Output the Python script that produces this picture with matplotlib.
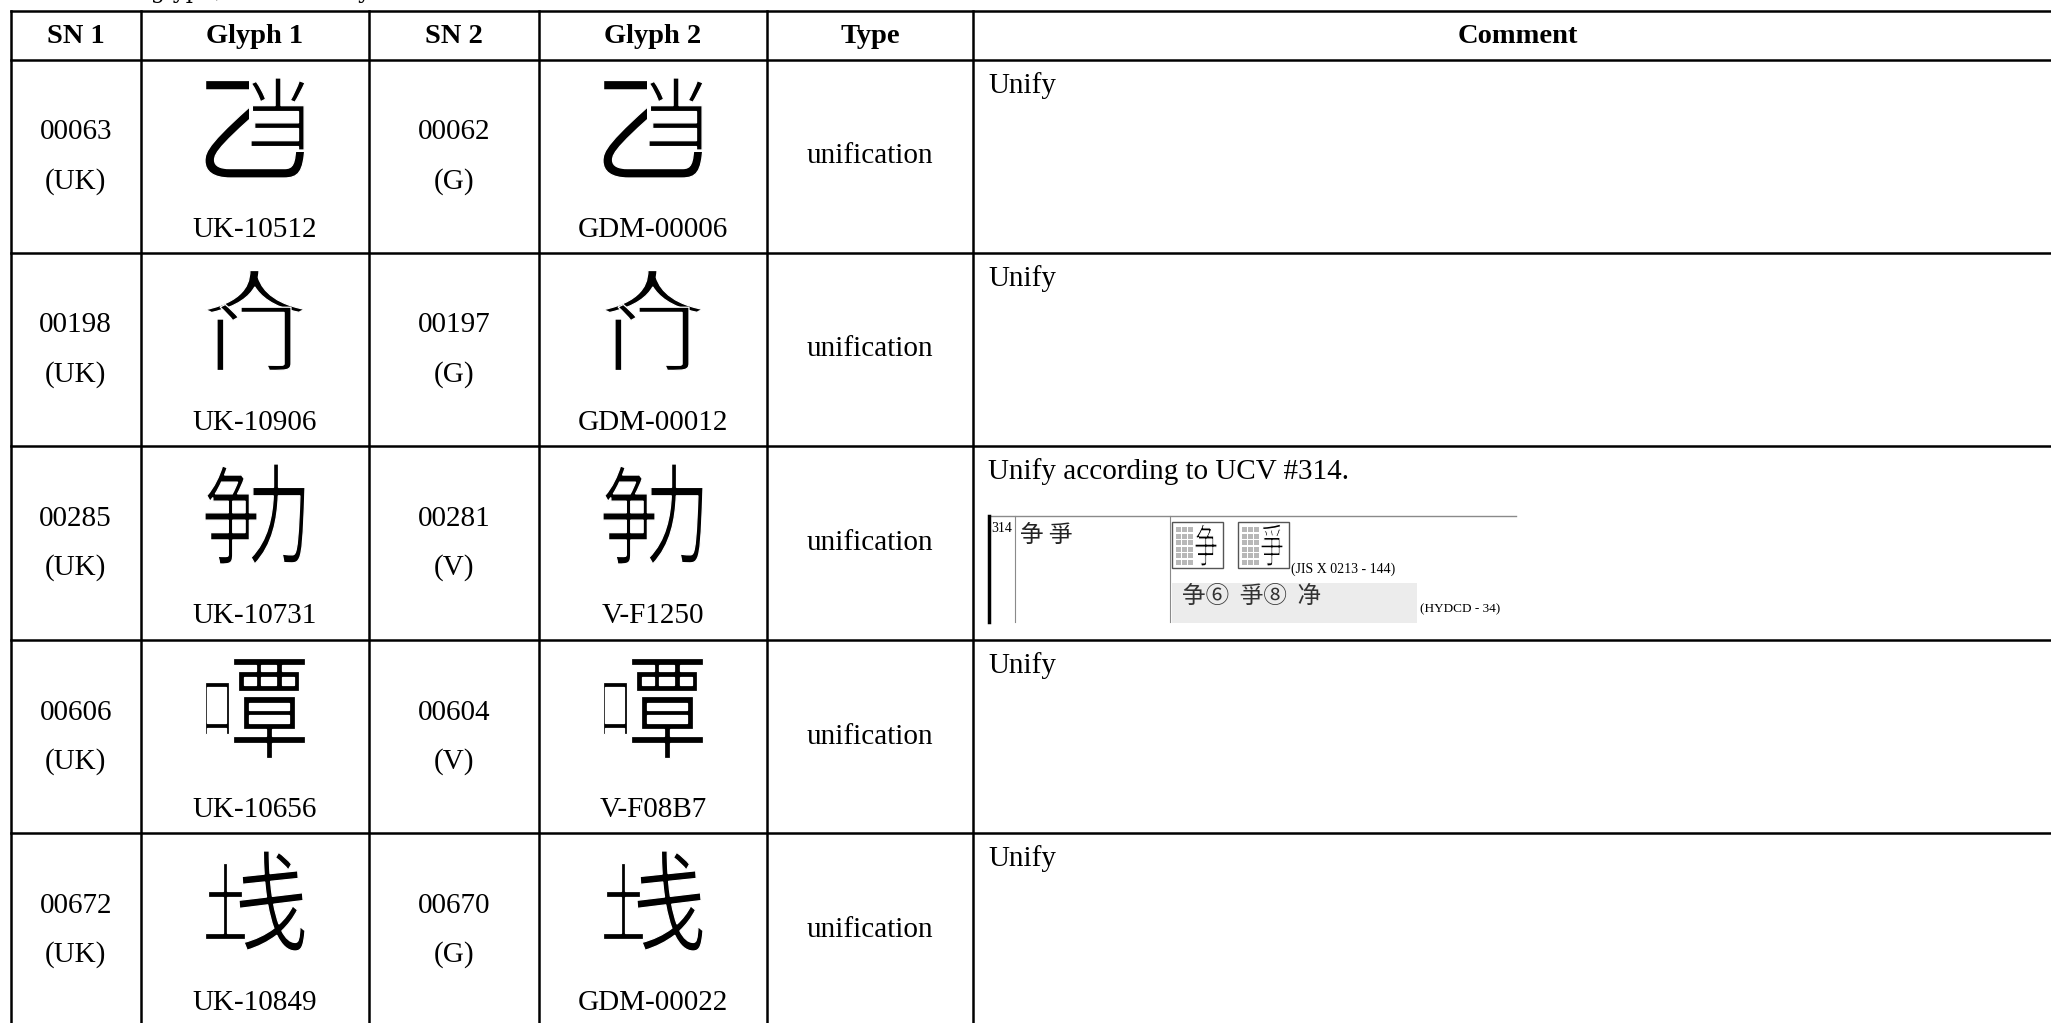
import matplotlib
matplotlib.use("Agg")
import matplotlib.pyplot as plt
from matplotlib.textpath import TextPath
from matplotlib.patches import PathPatch, Rectangle, Polygon
from matplotlib.font_manager import FontProperties
from matplotlib.transforms import Affine2D

# table content
headers = ["SN 1", "Glyph 1", "SN 2", "Glyph 2", "Type", "Comment"]
sn1 = ["00063", "00198", "00285", "00606", "00672"]
src1 = ["UK", "UK", "UK", "UK", "UK"]
ids1 = ["UK-10512", "UK-10906", "UK-10731", "UK-10656", "UK-10849"]
sn2 = ["00062", "00197", "00281", "00604", "00670"]
src2 = ["G", "G", "V", "V", "G"]
ids2 = ["GDM-00006", "GDM-00012", "V-F1250", "V-F08B7", "GDM-00022"]
types = ["unification"] * 5
comments = ["Unify", "Unify", "Unify according to UCV #314.", "Unify", "Unify"]

# glyphs not in Unicode: built from components (char, x, y, w, h in a unit box)
glyph_parts = [
    [("乙", 0.0, 0.02, 1.0, 0.98), ("当", 0.46, 0.0, 0.54, 0.72)],
    [("人", 0.0, 0.0, 1.0, 0.42), ("门", 0.12, 0.34, 0.74, 0.66)],
    [("争", 0.0, 0.02, 0.52, 0.98), ("力", 0.46, 0.0, 0.54, 1.0)],
    [("口", 0.0, 0.24, 0.24, 0.52), ("覃", 0.28, 0.0, 0.72, 1.0)],
    [("土", 0.0, 0.12, 0.40, 0.76), ("戋", 0.34, 0.0, 0.66, 1.0)],
]
# first component of row 1 is clipped so its top bar does not cross 当
clip_first = [True, False, False, False, False]

# UCV #314 excerpt
ucv_no = "314"
ucv_pair = "争 爭"
jis_ref = "(JIS X 0213 - 144)"
hydcd_chars = "争⑥  爭⑧  净"
hydcd_ref = "(HYDCD - 34)"

col_x = [10.5, 141, 369, 539, 767, 973, 2062]
row_y = [10.5, 60, 252.5, 446, 640, 833, 1027]

W, H = 2051, 1023
fig = plt.figure(figsize=(W / 100, H / 100), dpi=100)
ax = fig.add_axes([0, 0, 1, 1])
ax.set_xlim(0, W)
ax.set_ylim(H, 0)
ax.axis("off")

serif = "Liberation Serif"
fs = 21
cjk = FontProperties(family="Noto Sans CJK SC")


def put_char(ch, x0, y0, w, h, color="black", clip=None):
    tp = TextPath((0, 0), ch, size=1, prop=cjk)
    ext = tp.get_extents()
    tr = (Affine2D().translate(-ext.x0, -ext.y1)
          .scale(w / ext.width, -h / ext.height).translate(x0, y0))
    p = PathPatch(tr.transform_path(tp), fc=color, ec="white", lw=0.9)
    ax.add_patch(p)
    if clip is not None:
        p.set_clip_path(clip)


def put_glyph(parts, cx, top, size, clip0):
    x0 = cx - size / 2
    for k, (ch, px, py, pw, ph) in enumerate(parts):
        clip = None
        if k == 0 and clip0:
            s = size
            clip = Polygon([(x0 - 5, top - 5), (x0 + 0.44 * s, top - 5),
                            (x0 + 0.44 * s, top + 0.74 * s),
                            (x0 + s + 5, top + 0.74 * s),
                            (x0 + s + 5, top + s + 5), (x0 - 5, top + s + 5)],
                           closed=True, transform=ax.transData)
        put_char(ch, x0 + px * size, top + py * size, pw * size, ph * size,
                 clip=clip)


# cut-off heading above the table (only descenders show)
ax.text(79, -2, "Same glyph, identical layout", fontsize=16.5,
        family="DejaVu Serif", va="baseline", ha="left")

# grid
for y in row_y:
    ax.plot([col_x[0], col_x[-1]], [y, y], color="black", lw=1.8,
            solid_capstyle="projecting")
for x in col_x:
    ax.plot([x, x], [row_y[0], row_y[-1]], color="black", lw=1.8)

mid_x = [(col_x[i] + col_x[i + 1]) / 2 for i in range(6)]
for i, h in enumerate(headers):
    ax.text(mid_x[i], (row_y[0] + row_y[1]) / 2 + 1, h, fontsize=20.5,
            family=serif, weight="bold", ha="center", va="center")

for r in range(5):
    top = row_y[r + 1]
    mid = (row_y[r + 1] + row_y[r + 2]) / 2
    ax.text(mid_x[0], mid - 24, sn1[r], fontsize=fs, family=serif,
            ha="center", va="center")
    ax.text(mid_x[0], mid + 25, "(" + src1[r] + ")", fontsize=fs,
            family=serif, ha="center", va="center")
    ax.text(mid_x[2], mid - 24, sn2[r], fontsize=fs, family=serif,
            ha="center", va="center")
    ax.text(mid_x[2], mid + 25, "(" + src2[r] + ")", fontsize=fs,
            family=serif, ha="center", va="center")
    put_glyph(glyph_parts[r], mid_x[1], top + 18, 100, clip_first[r])
    put_glyph(glyph_parts[r], mid_x[3], top + 18, 100, clip_first[r])
    ax.text(mid_x[1], top + 170, ids1[r], fontsize=fs, family=serif,
            ha="center", va="center")
    ax.text(mid_x[3], top + 170, ids2[r], fontsize=fs, family=serif,
            ha="center", va="center")
    ax.text(mid_x[4], mid, types[r], fontsize=fs, family=serif,
            ha="center", va="center")
    ax.text(988, top + 26, comments[r], fontsize=fs, family=serif,
            ha="left", va="center")

# scanned UCV table excerpt in row 3
ex_top, ex_bot = 516, 622
ax.plot([989, 1516], [ex_top, ex_top], color="#8a8a8a", lw=1)
ax.plot([989, 989], [ex_top, ex_bot], color="black", lw=2.5)
ax.plot([1015, 1015], [ex_top, ex_bot], color="#8a8a8a", lw=0.8)
ax.plot([1170, 1170], [ex_top, ex_bot], color="#8a8a8a", lw=0.8)
ax.text(991, 528, ucv_no, fontsize=10, family=serif, ha="left", va="center")
ax.text(1020, 535, ucv_pair, fontsize=17, family="Noto Sans CJK SC",
        ha="left", va="center", color="#222222")

for bx, ch in [(1172, "争"), (1238, "爭")]:
    ax.add_patch(Rectangle((bx, 522), 51, 46, fc="white", ec="#555555", lw=1))
    for gy in range(6):
        for gx in range(3):
            ax.add_patch(Rectangle((bx + 4 + gx * 6, 527 + gy * 6.5), 5, 5,
                                   fc="#b8b8b8", ec="none"))
    put_char(ch, bx + 23, 524, 22, 42)

ax.text(1291, 569, jis_ref, fontsize=10, family=serif,
        ha="left", va="center")
ax.add_patch(Rectangle((1172, 583), 245, 40, fc="#ececec", ec="none"))
ax.text(1182, 596, hydcd_chars, fontsize=17,
        family=["Noto Sans CJK SC", "DejaVu Sans"], ha="left", va="center",
        color="#333333")
ax.text(1420, 609, hydcd_ref, fontsize=9.5, family=serif,
        ha="left", va="center")

fig.savefig("out.png", dpi=100)
